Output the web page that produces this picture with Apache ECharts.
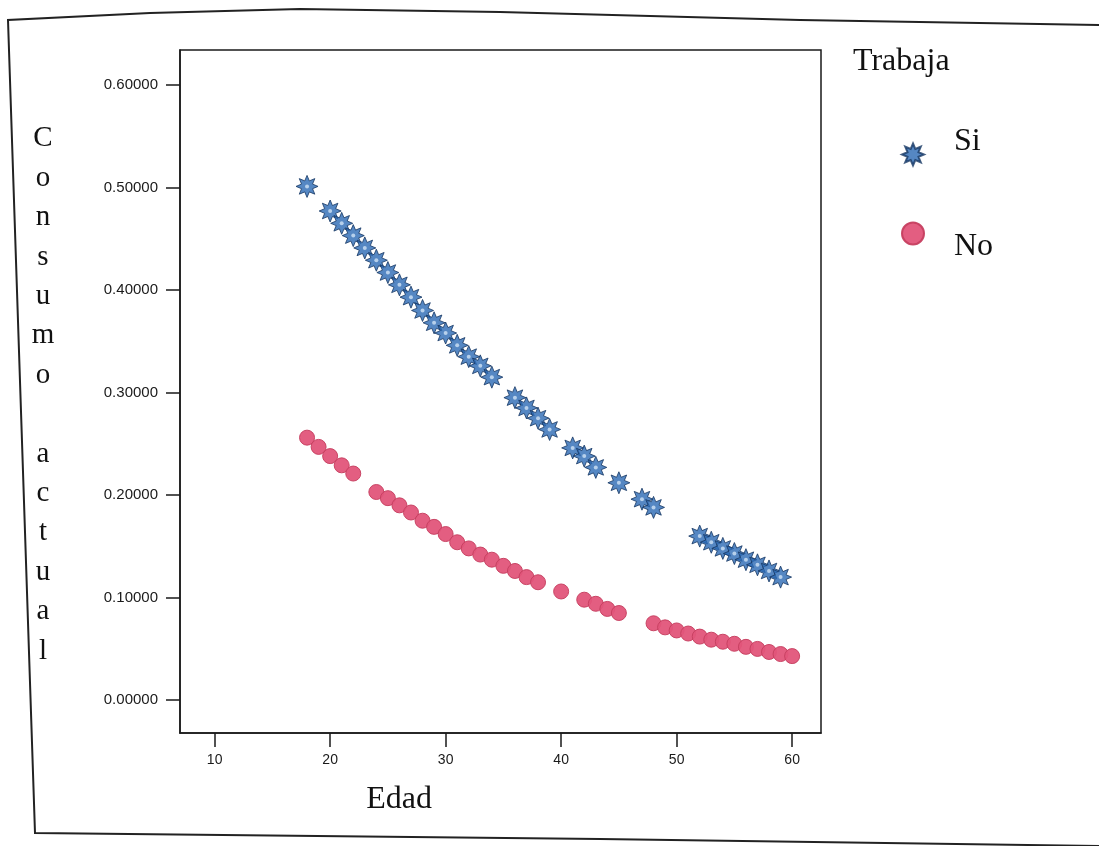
<!DOCTYPE html>
<html>
<head>
<meta charset="utf-8">
<script src="https://cdn.jsdelivr.net/npm/echarts@6/dist/echarts.min.js"></script>
<style>
html,body{margin:0;padding:0;background:#fff;}
#c{width:1099px;height:846px;}
</style>
</head>
<body>
<div id="c"></div>
<script>
// ---- data ----
const agesSi = [18,20,21,22,23,24,25,26,27,28,29,30,31,32,33,34,36,37,38,39,41,42,43,45,47,48,52,53,54,55,56,57,58,59];
const consumoSi = [0.501,0.477,0.465,0.453,0.441,0.429,0.417,0.405,0.393,0.380,0.368,0.358,0.346,0.335,0.326,0.315,0.295,0.285,0.275,0.264,0.246,0.238,0.227,0.212,0.196,0.188,0.160,0.154,0.148,0.143,0.137,0.132,0.126,0.120];
const agesNo = [18,19,20,21,22,24,25,26,27,28,29,30,31,32,33,34,35,36,37,38,40,42,43,44,45,48,49,50,51,52,53,54,55,56,57,58,59,60];
const consumoNo = [0.256,0.247,0.238,0.229,0.221,0.203,0.197,0.190,0.183,0.175,0.169,0.162,0.154,0.148,0.142,0.137,0.131,0.126,0.120,0.115,0.106,0.098,0.094,0.089,0.085,0.075,0.071,0.068,0.065,0.062,0.059,0.057,0.055,0.052,0.050,0.047,0.045,0.043];
const xTicks = [10,20,30,40,50,60];
const yTicks = [0,0.1,0.2,0.3,0.4,0.5,0.6];
const seriesNames = ['Si','No'];
const legendTitle = 'Trabaja';
const xTitle = 'Edad';
const yTitle = 'Consumo actual';

const zip = (a,b) => a.map((v,i)=>[v,b[i]]);
const starPath = 'path://M10,0 L12.1,5.0 L17.07,2.93 L15.0,7.9 L20,10 L15.0,12.1 L17.07,17.07 L12.1,15.0 L10,20 L7.9,15.0 L2.93,17.07 L5.0,12.1 L0,10 L5.0,7.9 L2.93,2.93 L7.9,5.0 Z';
const serif = '"Liberation Serif", "DejaVu Serif", serif';
const sans = '"Liberation Sans", Arial, sans-serif';

const yTitleText = yTitle.split('').map(ch => ch === ' ' ? '' : ch).join('\n');

const chart = echarts.init(document.getElementById('c'), null, {renderer:'canvas'});
chart.setOption({
  animation: false,
  backgroundColor: '#fff',
  grid: {left: 180, top: 50, width: 641, height: 683, show: true, borderColor: '#1a1a1a', borderWidth: 1.5, backgroundColor: 'transparent'},
  xAxis: {
    type: 'value', min: 7, max: 62.5,
    splitLine: {show: false},
    axisLine: {show: true, onZero: false, lineStyle: {color: '#1a1a1a', width: 1.5}},
    axisTick: {show: true, length: 14, lineStyle: {color: '#1a1a1a', width: 1.5}, customValues: xTicks},
    axisLabel: {customValues: xTicks, margin: 20, color: '#1a1a1a', fontFamily: sans, fontSize: 14}
  },
  yAxis: {
    type: 'value', min: -0.032, max: 0.634,
    splitLine: {show: false},
    axisLine: {show: true, onZero: false, lineStyle: {color: '#1a1a1a', width: 1.5}},
    axisTick: {show: true, length: 14, lineStyle: {color: '#1a1a1a', width: 1.5}, customValues: yTicks},
    axisLabel: {customValues: yTicks, margin: 22, color: '#1a1a1a', fontFamily: sans, fontSize: 15,
      formatter: v => v.toFixed(5)}
  },
  legend: [
    {data: [seriesNames[0]], orient: 'vertical', left: 901, top: 126, padding: 0,
     itemWidth: 22, itemHeight: 22, formatter: n => n + '\n',
     textStyle: {fontFamily: serif, fontSize: 32, lineHeight: 25, color: '#111', padding: [0,0,0,25]}},
    {data: [seriesNames[1]], orient: 'vertical', left: 901, top: 204, padding: 0,
     itemWidth: 22, itemHeight: 22, formatter: n => '\n' + n,
     textStyle: {fontFamily: serif, fontSize: 32, lineHeight: 27, color: '#111', padding: [0,0,0,25]}}
  ],
  graphic: [
    {type: 'polyline', silent: true, shape: {points: [[1099,25],[800,20],[500,12],[300,9],[150,13],[8,20],[35,833],[600,839],[1099,846]]},
     style: {stroke: '#222', lineWidth: 2, fill: null}},
    {type: 'text', left: 853, top: 46, style: {text: legendTitle, font: '32px ' + serif, fill: '#111'}},
    {type: 'text', x: 43, y: 119, style: {text: yTitleText, font: '29px ' + serif, lineHeight: 39.4, align: 'center', verticalAlign: 'top', fill: '#111'}},
    {type: 'text', x: 399, y: 800, style: {text: xTitle, font: '32px ' + serif, align: 'center', verticalAlign: 'middle', fill: '#111'}}
  ],
  series: [
    {name: seriesNames[0], type: 'scatter', data: zip(agesSi, consumoSi), symbol: starPath, symbolSize: 22,
     itemStyle: {color: '#2a69b4', borderColor: '#163763', borderWidth: 1}},
    {name: 'Si-centro', type: 'scatter', data: zip(agesSi, consumoSi), symbol: 'circle', symbolSize: 4, silent: true,
     itemStyle: {color: '#cfe2f5'}},
    {name: seriesNames[1], type: 'scatter', data: zip(agesNo, consumoNo), symbol: 'circle', symbolSize: 15,
     itemStyle: {color: '#e2557a', borderColor: '#c63f60', borderWidth: 1, opacity: 0.95}}
  ]
});
</script>
</body>
</html>
